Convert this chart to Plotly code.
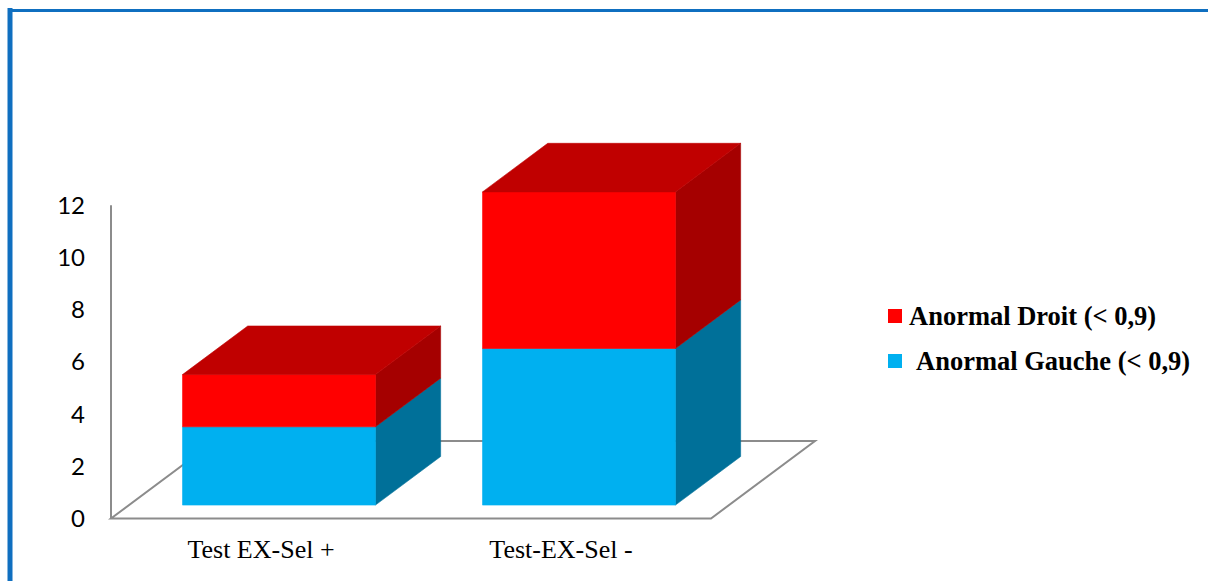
import plotly.graph_objects as go

# ---- data ----
categories = ["Test EX-Sel +", "Test-EX-Sel -"]
gauche = [3, 6]          # Anormal Gauche (< 0,9)  -> lower segment
droit = [2, 6]           # Anormal Droit (< 0,9)   -> upper segment
series_names = ["Anormal Droit (< 0,9)", "Anormal Gauche (< 0,9)"]
y_ticks = [0, 2, 4, 6, 8, 10, 12]

# ---- styling / geometry ----
W, H = 1208, 581
M_L, M_R, M_T, M_B = 100, 0, 0, 51
PX_PER_CAT = 300.0        # horizontal pixels per category
PX_PER_UNIT = 26.1        # vertical pixels per value unit
X0_PX = 261.0             # pixel of category 0 centre (front edge of floor)
Y0_PX = 518.5             # pixel of value 0

DEPTH_X = 104.0 / PX_PER_CAT      # oblique depth of the floor, in x units
DEPTH_Y = 77.5 / PX_PER_UNIT      # oblique depth of the floor, in y units
F_FRONT, F_BACK = 0.173, 0.80     # bar depth span as fraction of floor depth
BAR_W = 0.643

COL = {
    "gauche": {"front": "#00B0F0", "side": "#007099", "top": "#0090C8"},
    "droit": {"front": "#FF0000", "side": "#A50000", "top": "#C00000"},
}
GRID_COL = "#8C8C8C"
FRAME_COL = "#0F6FC0"
SERIF = "Liberation Serif, Times New Roman, serif"

plot_w = W - M_L - M_R
plot_h = H - M_T - M_B
x_range = [(M_L - X0_PX) / PX_PER_CAT, (W - M_R - X0_PX) / PX_PER_CAT]
y_range = [(Y0_PX - (H - M_B)) / PX_PER_UNIT, (Y0_PX - M_T) / PX_PER_UNIT]


def px_x(p):
    return (p - M_L) / plot_w


def px_y(p):
    return (H - M_B - p) / plot_h


fig = go.Figure()


def poly(xs, ys, color):
    fig.add_trace(go.Scatter(
        x=xs + [xs[0]], y=ys + [ys[0]], mode="lines", fill="toself",
        fillcolor=color, line=dict(color=color, width=0.6),
        hoverinfo="skip", showlegend=False))


def dx(f):
    return f * DEPTH_X


def dy(f):
    return f * DEPTH_Y


# ---- floor outline and vertical value axis line ----
fl, fr = -0.5, len(categories) - 0.5
floor_path = (f"M {fl},0 L {fr},0 L {fr + DEPTH_X},{DEPTH_Y} "
              f"L {fl + DEPTH_X},{DEPTH_Y} Z")
shapes = [
    dict(type="path", path=floor_path, xref="x", yref="y",
         line=dict(color=GRID_COL, width=2), layer="below"),
    dict(type="line", x0=fl, x1=fl, y0=0, y1=max(y_ticks), xref="x", yref="y",
         line=dict(color=GRID_COL, width=2), layer="below"),
]

# ---- stacked 3D bars ----
for i, cat in enumerate(categories):
    xl = i - BAR_W / 2
    xr = i + BAR_W / 2
    segments = [("gauche", 0, gauche[i]), ("droit", gauche[i], gauche[i] + droit[i])]
    for key, lo, hi in segments:
        c = COL[key]
        # right side face
        poly([xr + dx(F_FRONT), xr + dx(F_BACK), xr + dx(F_BACK), xr + dx(F_FRONT)],
             [lo + dy(F_FRONT), lo + dy(F_BACK), hi + dy(F_BACK), hi + dy(F_FRONT)],
             c["side"])
        # front face
        poly([xl + dx(F_FRONT), xr + dx(F_FRONT), xr + dx(F_FRONT), xl + dx(F_FRONT)],
             [lo + dy(F_FRONT), lo + dy(F_FRONT), hi + dy(F_FRONT), hi + dy(F_FRONT)],
             c["front"])
    # top face of the stack
    top = gauche[i] + droit[i]
    c = COL["droit"]
    poly([xl + dx(F_FRONT), xr + dx(F_FRONT), xr + dx(F_BACK), xl + dx(F_BACK)],
         [top + dy(F_FRONT), top + dy(F_FRONT), top + dy(F_BACK), top + dy(F_BACK)],
         c["top"])

# ---- outer frame (left and top rules) ----
shapes += [
    dict(type="line", xref="paper", yref="paper",
         x0=px_x(10), x1=px_x(10), y0=px_y(8), y1=px_y(H + 5),
         line=dict(color=FRAME_COL, width=5)),
    dict(type="line", xref="paper", yref="paper",
         x0=px_x(8), x1=px_x(W + 5), y0=px_y(10.5), y1=px_y(10.5),
         line=dict(color=FRAME_COL, width=3)),
]

# ---- legend ----
legend_rows = [
    (series_names[0], COL["droit"]["front"], 316, 907),
    (series_names[1], COL["gauche"]["front"], 361, 914),
]
annotations = []
for name, color, yc, xt in legend_rows:
    shapes.append(dict(type="rect", xref="paper", yref="paper",
                       x0=px_x(888), x1=px_x(902), y0=px_y(yc - 7), y1=px_y(yc + 7),
                       fillcolor=color, line=dict(width=0)))
    annotations.append(dict(xref="paper", yref="paper", x=px_x(xt), y=px_y(yc),
                            xanchor="left", yanchor="middle", showarrow=False,
                            text=f"<b>{name}</b>",
                            font=dict(family=SERIF, size=26.5, color="#000000")))

fig.update_layout(
    width=W, height=H,
    margin=dict(l=M_L, r=M_R, t=M_T, b=M_B, pad=0),
    paper_bgcolor="white", plot_bgcolor="white",
    showlegend=False,
    shapes=shapes,
    annotations=annotations,
    xaxis=dict(range=x_range, showgrid=False, zeroline=False, showline=False,
               tickmode="array", tickvals=list(range(len(categories))), ticktext=categories,
               ticks="", ticklabelstandoff=1,
               tickfont=dict(family=SERIF, size=26, color="#000000")),
    yaxis=dict(range=y_range, showgrid=False, zeroline=False, showline=False,
               tickmode="array", tickvals=y_ticks, ticktext=[str(v) for v in y_ticks],
               ticks="", ticklabelstandoff=14,
               tickfont=dict(family="Lato", size=24, color="#000000")),
)

fig.write_html("out.html", config={"displayModeBar": False})
